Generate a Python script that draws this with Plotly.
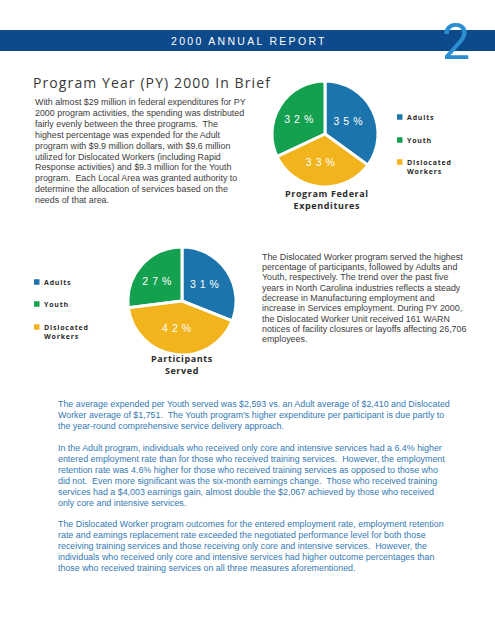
import plotly.graph_objects as go

W, H = 495, 640

# ---- data ----
programs = ["Adults", "Youth", "Dislocated Workers"]
program_colors = ["#1b74ab", "#13a04f", "#f2b41c"]
expenditure_pct = [35, 32, 33]
participants_pct = [31, 27, 42]
chart_titles = ["Program Federal<br>Expenditures", "Participants<br>Served"]

header_text = "2000 ANNUAL REPORT"
page_number = "2"
page_title = "Program Year (PY) 2000 In Brief"

para1 = [
    "With almost $29 million in federal expenditures for PY",
    "2000 program activities, the spending was distributed",
    "fairly evenly between the three programs.\u00a0 The",
    "highest percentage was expended for the Adult",
    "program with $9.9 million dollars, with $9.6 million",
    "utilized for Dislocated Workers (including Rapid",
    "Response activities) and $9.3 million for the Youth",
    "program.\u00a0 Each Local Area was granted authority to",
    "determine the allocation of services based on the",
    "needs of that area.",
]
para2 = [
    "The Dislocated Worker program served the highest",
    "percentage of participants, followed by Adults and",
    "Youth, respectively. The trend over the past five",
    "years in North Carolina industries reflects a steady",
    "decrease in Manufacturing employment and",
    "increase in Services employment. During PY 2000,",
    "the Dislocated Worker Unit received 161 WARN",
    "notices of facility closures or layoffs affecting 26,706",
    "employees.",
]
para3 = [
    "The average expended per Youth served was $2,593 vs. an Adult average of $2,410 and Dislocated",
    "Worker average of $1,751.\u00a0 The Youth program's higher expenditure per participant is due partly to",
    "the year-round comprehensive service delivery approach.",
]
para4 = [
    "In the Adult program, individuals who received only core and intensive services had a 6.4% higher",
    "entered employment rate than for those who received training services.\u00a0 However, the employment",
    "retention rate was 4.6% higher for those who received training services as opposed to those who",
    "did not.\u00a0 Even more significant was the six-month earnings change.\u00a0 Those who received training",
    "services had a $4,003 earnings gain, almost double the $2,067 achieved by those who received",
    "only core and intensive services.",
]
para5 = [
    "The Dislocated Worker program outcomes for the entered employment rate, employment retention",
    "rate and earnings replacement rate exceeded the negotiated performance level for both those",
    "receiving training services and those receiving only core and intensive services.\u00a0 However, the",
    "individuals who received only core and intensive services had higher outcome percentages than",
    "those who received training services on all three measures aforementioned.",
]

# ---- helpers ----
def X(px):
    return px / W


def Y(py):
    return 1 - py / H


annotations = []
shapes = []

SANS = "Liberation Sans, Arial, sans-serif"
OPEN = "Open Sans, sans-serif"
GRAY = "#3c3c3c"
BLUE_TXT = "#3479b3"


def txt(x, y, s, size, color, family=SANS, xanchor="left", ls=None, weight=None, align="left"):
    if ls:
        s = "<br>".join(f'<span style="letter-spacing:{ls}px">{p}</span>' for p in s.split("<br>"))
    font = dict(size=size, color=color, family=family)
    if weight:
        font["weight"] = weight
    annotations.append(dict(
        x=X(x), y=Y(y), xref="paper", yref="paper", text=s, showarrow=False,
        xanchor=xanchor, yanchor="middle", align=align, font=font,
        borderpad=0,
    ))


def paragraph(lines, x, y0, dy, size, color):
    for i, line in enumerate(lines):
        txt(x, y0 + i * dy, line, size, color)


def legend(x, ys):
    size = 7
    for lab, col, y in zip(programs, program_colors, ys):
        shapes.append(dict(type="rect", xref="paper", yref="paper",
                           x0=X(x), x1=X(x + 5.5), y0=Y(y - 2.75), y1=Y(y + 2.75),
                           fillcolor=col, line=dict(width=0)))
        words = lab.split(" ")
        yc = y + (len(words) - 1) * size * 1.3 / 2
        txt(x + 9, yc, "<br>".join(words), size, "#2b2b2b", OPEN, ls=0.8, weight=700)


# ---- figure ----
fig = go.Figure()

pie_common = dict(
    labels=programs,
    sort=False,
    direction="counterclockwise",
    rotation=0,
    marker=dict(colors=program_colors, line=dict(color="white", width=3)),
    textinfo="text",
    textposition="inside",
    insidetextorientation="horizontal",
    textfont=dict(color="white", size=10.5, family=SANS),
    showlegend=False,
    hoverinfo="label+percent",
)


def pie_domain(cx, cy, r):
    return dict(x=[X(cx - r), X(cx + r)], y=[Y(cy + r), Y(cy - r)])


def pie_text(vals):
    return [f'<span style="letter-spacing:4px">{v}%</span>' for v in vals]


fig.add_trace(go.Pie(values=expenditure_pct, text=pie_text(expenditure_pct),
                     domain=pie_domain(325, 134, 53), **pie_common))
fig.add_trace(go.Pie(values=participants_pct, text=pie_text(participants_pct),
                     domain=pie_domain(182, 301, 54), **pie_common))

# header band
shapes.append(dict(type="rect", xref="paper", yref="paper", x0=0, x1=1,
                   y0=Y(51), y1=Y(30), fillcolor="#0d4a8c", line=dict(width=0), layer="below"))
txt(249, 41, header_text, 10.5, "white", SANS, xanchor="center", ls=2.3)
txt(456, 42, page_number, 50, "#2a8fd0", "Liberation Sans Narrow, Roboto, sans-serif",
    xanchor="center", weight=400)

# title
txt(32, 83, page_title, 14, "#383838", OPEN, ls=1.1)

paragraph(para1, 34, 102.3, 10.85, 8.9, GRAY)
paragraph(para2, 261, 256.7, 10.33, 8.9, GRAY)
paragraph(para3, 57, 404, 10.9, 8.9, BLUE_TXT)
paragraph(para4, 57, 448.3, 10.9, 8.9, BLUE_TXT)
paragraph(para5, 57, 524.3, 10.9, 8.9, BLUE_TXT)

# pie titles
for (cx, yc), title in zip([(327, 199.5), (182, 364.5)], chart_titles):
    txt(cx, yc, title, 9, "#2b2b2b", OPEN, xanchor="center", ls=0.6, weight=700, align="center")

legend(397, [117, 140, 162])
legend(34, [282, 304, 327])

fig.update_layout(
    width=W, height=H, autosize=False,
    margin=dict(l=0, r=0, t=0, b=0),
    paper_bgcolor="white", plot_bgcolor="white",
    annotations=annotations, shapes=shapes,
)

fig.write_html(
    "out.html",
    config={"displayModeBar": False},
    post_script="document.body.style.margin='0';document.body.style.padding='0';",
)
